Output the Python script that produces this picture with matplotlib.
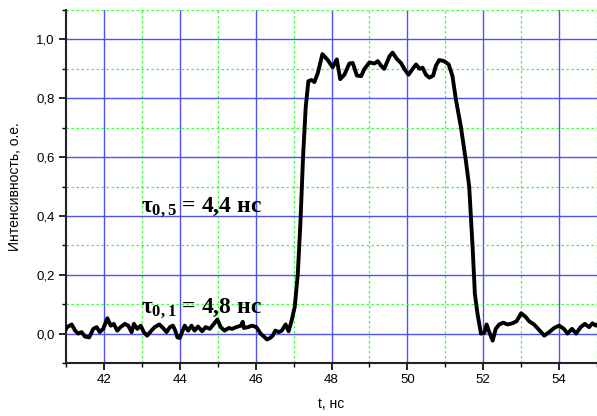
import matplotlib
matplotlib.use("Agg")
import matplotlib.pyplot as plt
from matplotlib.ticker import MultipleLocator, FuncFormatter

# time, ns and intensity, a.u.
t = [41.0, 41.03, 41.15, 41.24, 41.32, 41.41, 41.5, 41.61, 41.72, 41.81, 41.89,
     41.98, 42.09, 42.18, 42.26, 42.35, 42.44, 42.55, 42.64, 42.73, 42.79,
     42.88, 42.97, 43.05, 43.14, 43.25, 43.34, 43.46, 43.56, 43.65, 43.74,
     43.82, 43.88, 43.94, 44.0, 44.06, 44.13, 44.22, 44.31, 44.39, 44.48,
     44.59, 44.68, 44.79, 44.9, 44.99, 45.08, 45.18, 45.29, 45.38, 45.49,
     45.61, 45.66, 45.69, 45.8, 45.9, 46.02, 46.13, 46.24, 46.3, 46.38,
     46.45, 46.52, 46.61, 46.69, 46.79, 46.87, 46.94, 47.03, 47.11, 47.18,
     47.25, 47.32, 47.39, 47.47, 47.55, 47.64, 47.76, 47.9, 48.03, 48.14,
     48.23, 48.34, 48.47, 48.56, 48.67, 48.78, 48.87, 49.0, 49.13, 49.22,
     49.31, 49.39, 49.53, 49.61, 49.72, 49.83, 49.92, 50.03, 50.14, 50.23,
     50.32, 50.4, 50.49, 50.58, 50.68, 50.75, 50.84, 50.97, 51.09, 51.19,
     51.28, 51.41, 51.54, 51.63, 51.72, 51.78, 51.85, 51.94, 52.03, 52.09,
     52.16, 52.25, 52.33, 52.42, 52.53, 52.64, 52.77, 52.88, 53.0, 53.11,
     53.21, 53.34, 53.47, 53.61, 53.74, 53.87, 54.0, 54.13, 54.22, 54.34,
     54.45, 54.57, 54.68, 54.79, 54.88, 54.97, 55.0]
intensity = [0.015, 0.022, 0.031, 0.01, 0.0, 0.005, -0.01, -0.013, 0.016, 0.022, 0.005,
             0.016, 0.052, 0.027, 0.033, 0.01, 0.022, 0.033, 0.027, 0.005, 0.033,
             0.016, 0.027, 0.005, -0.007, 0.01, 0.022, 0.031, 0.019, 0.005, 0.022,
             0.027, 0.01, -0.013, -0.015, 0.005, 0.027, 0.01, 0.027, 0.01, 0.024,
             0.008, 0.022, 0.016, 0.033, 0.048, 0.022, 0.01, 0.019, 0.016, 0.022,
             0.027, 0.04, 0.019, 0.022, 0.027, 0.022, 0.0, -0.013, -0.02, -0.015,
             -0.007, 0.01, 0.005, 0.01, 0.031, 0.008, 0.04, 0.09, 0.2, 0.375,
             0.6, 0.77, 0.858, 0.862, 0.855, 0.886, 0.95, 0.93, 0.905, 0.932,
             0.865, 0.88, 0.918, 0.92, 0.877, 0.875, 0.9, 0.922, 0.918, 0.926,
             0.91, 0.9, 0.943, 0.955, 0.934, 0.92, 0.9, 0.88, 0.9, 0.915,
             0.9, 0.904, 0.88, 0.87, 0.877, 0.91, 0.93, 0.926, 0.915, 0.875,
             0.795, 0.704, 0.59, 0.5, 0.295, 0.135, 0.067, 0.0, 0.003, 0.031,
             0.005, -0.024, 0.016, 0.031, 0.037, 0.031, 0.035, 0.042, 0.069, 0.058,
             0.042, 0.031, 0.013, -0.007, 0.005, 0.019, 0.027, 0.016, 0.0, 0.016,
             0.0, 0.022, 0.033, 0.022, 0.035, 0.027, 0.03]

label_05 = r"$\tau_{0,5}$ = 4,4 нс"
label_01 = r"$\tau_{0,1}$ = 4,8 нс"

plt.rcParams["font.family"] = ["Liberation Sans", "DejaVu Sans"]
plt.rcParams["mathtext.fontset"] = "custom"
plt.rcParams["mathtext.rm"] = "Liberation Serif:bold"
plt.rcParams["mathtext.it"] = "Liberation Serif:bold"
plt.rcParams["mathtext.bf"] = "Liberation Serif:bold"

fig = plt.figure(figsize=(5.97, 4.16), dpi=100)
ax = fig.add_axes([66 / 597, 1 - 363 / 416, 531 / 597, 353 / 416])

ax.plot(t, intensity, color="black", lw=2.8, solid_joinstyle="round", zorder=3)

ax.set_xlim(41, 55)
ax.set_ylim(-0.1, 1.1)
ax.xaxis.set_major_locator(MultipleLocator(2))
ax.xaxis.set_minor_locator(MultipleLocator(1))
ax.yaxis.set_major_locator(MultipleLocator(0.2))
ax.yaxis.set_minor_locator(MultipleLocator(0.1))
ax.yaxis.set_major_formatter(FuncFormatter(lambda v, p: f"{v:.1f}".replace(".", ",")))

ax.grid(which="major", color="#5050ff", lw=1.0, ls="-", zorder=1)
ax.grid(which="minor", color="#33ff33", lw=0.9, ls=(0, (2, 2)), zorder=1)
ax.set_axisbelow(True)

for s in ["top", "right"]:
    ax.spines[s].set_visible(False)
for s in ["left", "bottom"]:
    ax.spines[s].set_linewidth(1.5)
    ax.spines[s].set_color("#222222")

ax.tick_params(which="major", direction="out", length=5, width=1.2, labelsize=9.5, pad=3)
ax.tick_params(which="minor", direction="out", length=3, width=1.0)

ax.set_xlabel("t, нс", fontsize=10, labelpad=8)
ax.set_ylabel("Интенсивность, о.е.", fontsize=10)
ax.yaxis.set_label_coords(-0.082, 0.5)

ax.text(42.99, 0.414, label_05, fontsize=17, family="Liberation Serif",
        fontweight="bold", va="baseline", ha="left", zorder=4)
ax.text(42.99, 0.073, label_01, fontsize=17, family="Liberation Serif",
        fontweight="bold", va="baseline", ha="left", zorder=4)

fig.savefig("out.png", dpi=100)
